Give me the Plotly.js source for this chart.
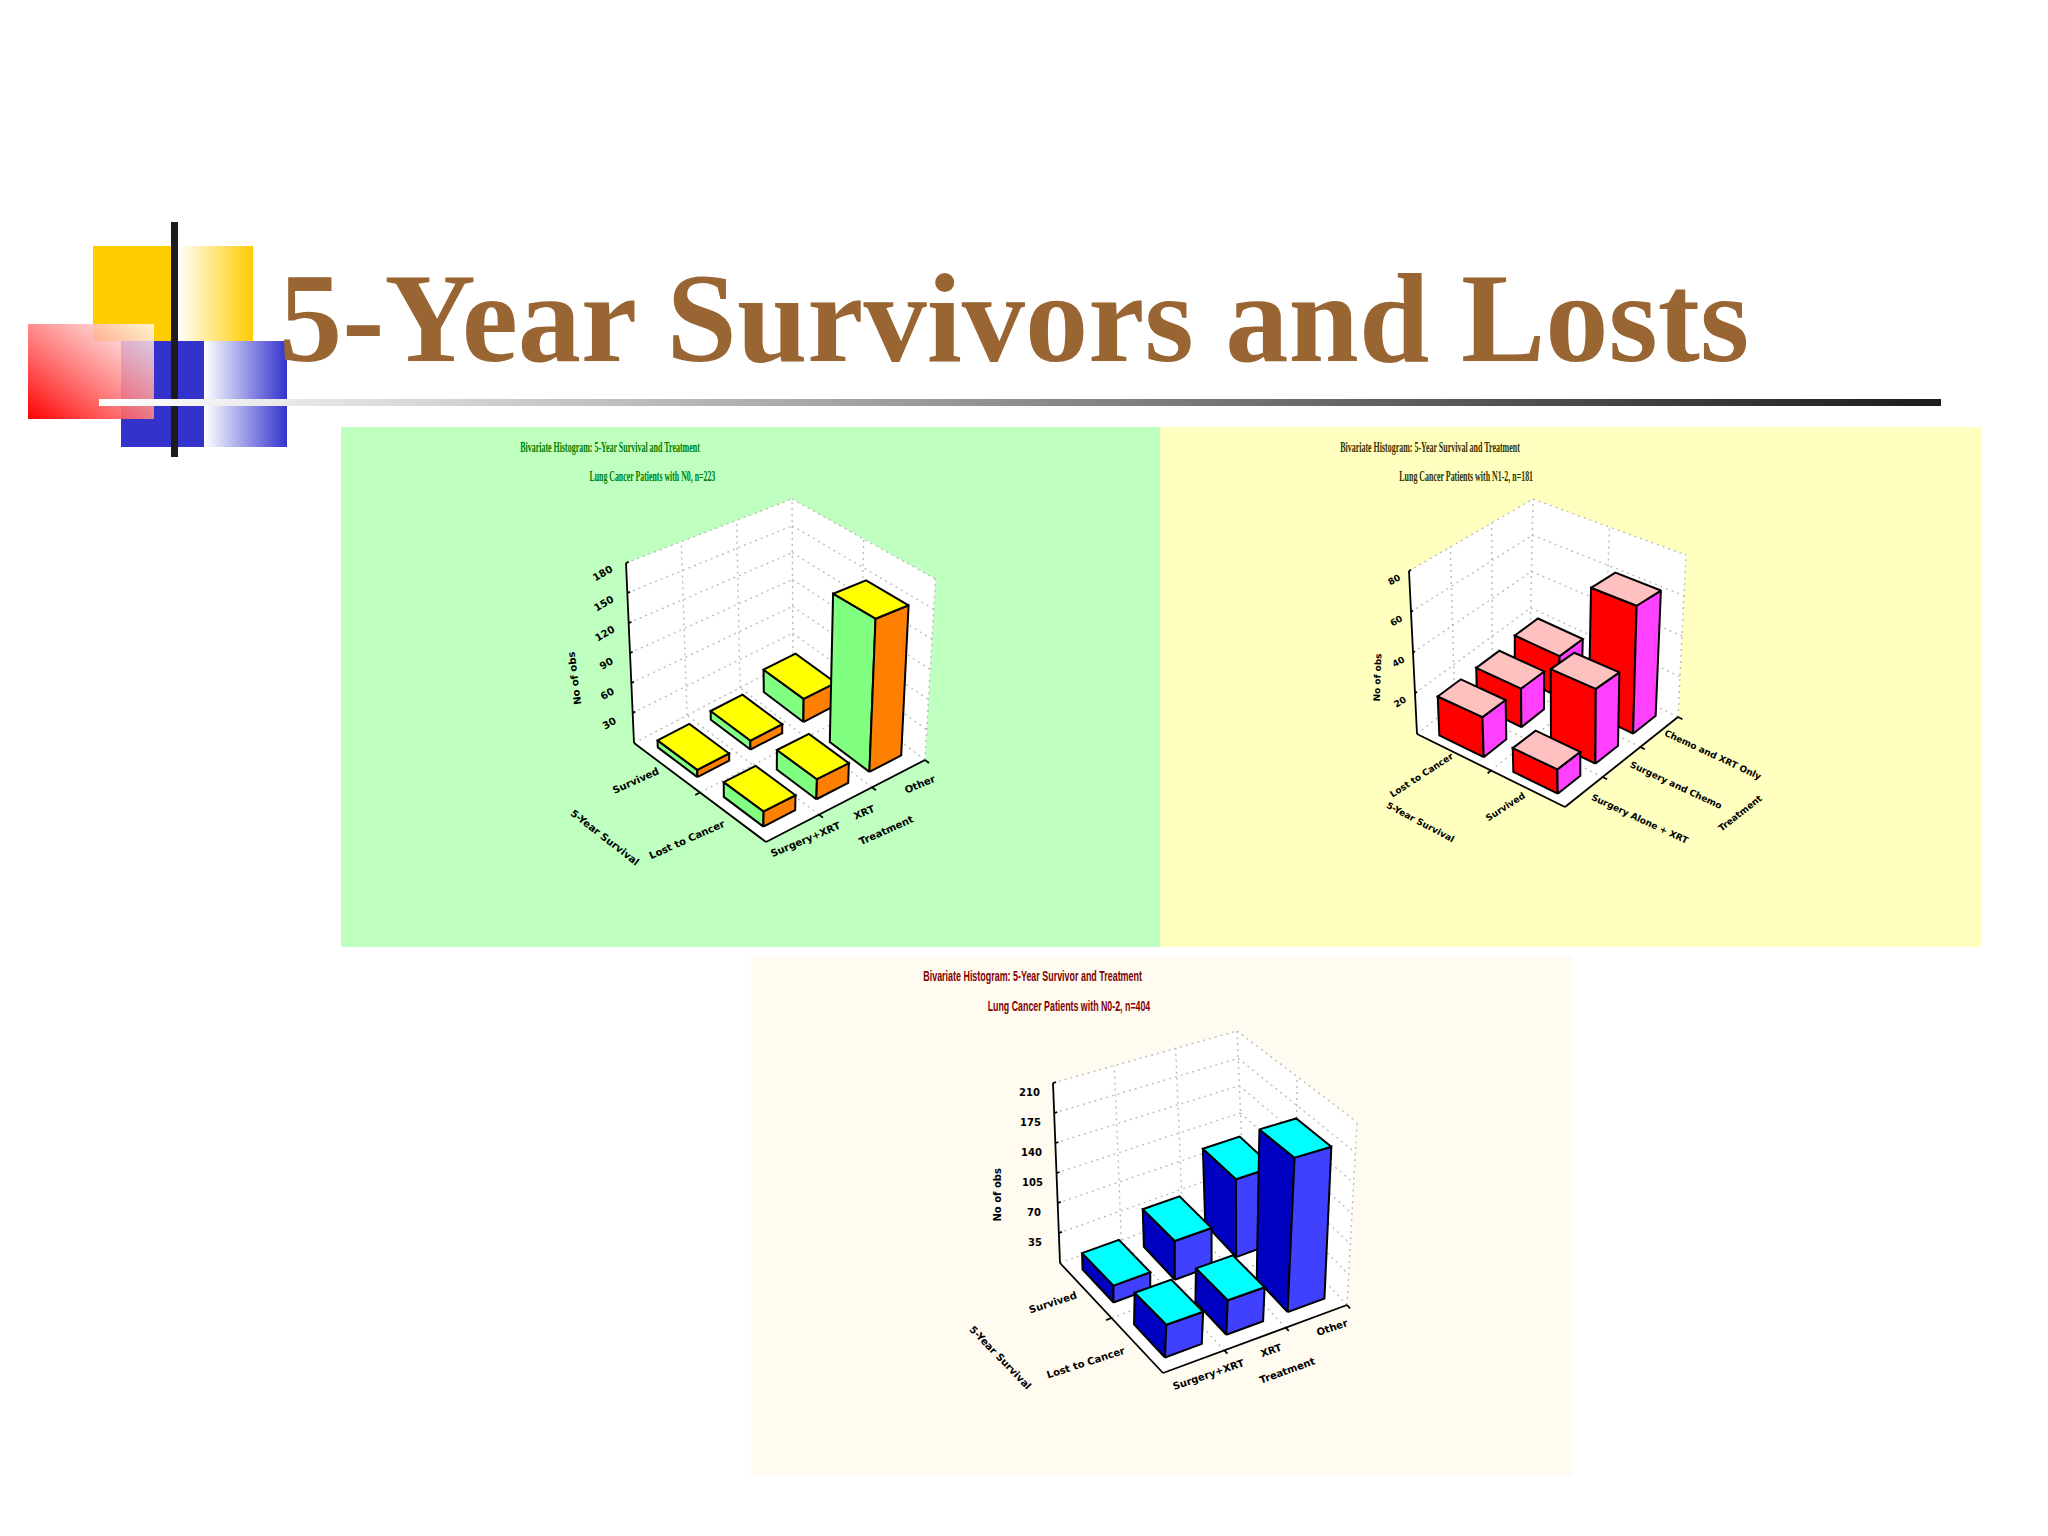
<!DOCTYPE html>
<html><head><meta charset="utf-8">
<script src="https://cdn.plot.ly/plotly-3.0.1.min.js"></script>
<style>html,body{margin:0;padding:0;background:#fff;overflow:hidden}#g{width:2048px;height:1536px}</style>
</head><body><div id="g"></div>
<script>
// ---- data ----
const slideTitle = "5-Year Survivors and Losts";
const treatmentsA = ["Surgery+XRT", "XRT", "Other"];
const treatmentsB = ["Surgery Alone + XRT", "Surgery and Chemo", "Chemo and XRT Only"];
const outcomesA = ["Survived", "Lost to Cancer"];
const outcomesB = ["Lost to Cancer", "Survived"];
const n0Rear = [7, 9, 24];
const n0Near = [14, 19, 150];
const n12Rear = [19, 19, 21];
const n12Near = [11, 35, 62];
const n02Rear = [19, 45, 93];
const n02Near = [35, 38, 175];
const n0Ticks = [30, 60, 90, 120, 150, 180];
const n12Ticks = [20, 40, 60, 80];
const n02Ticks = [35, 70, 105, 140, 175, 210];

// ---- page geometry and styling ----
const W = 2048, H = 1536, BAR = 0.6, NX = 3, NY = 2;
const charts = [
 {sub:'', panel:[341,427,1160,947], bg:'#BFFFBF',
  title1:"Bivariate Histogram: 5-Year Survival and Treatment", title2:"Lung Cancer Patients with N0, n=223",
  t1:[609.5,447,180], t2:[652,476,126], tColor:'#008000', tFont:'Liberation Serif', tSize:14,
  rear:n0Rear, near:n0Near, ticks:n0Ticks, cats:treatmentsA, outcomes:outcomesA, labelSize:10,
  floor:{l:[634,743],f:[766,842],r:[925,760],b:[793,660]},
  roof:{l:[626,563],f:[769,643],r:[935.5,579],b:[792,499]},
  top:'#ffff00', left:'#80ff80', right:'#ff8000',
  xOff:[[13,11],[18,11],[21,11]], xAng:-23, xTitleOff:[40,29], xTitleAng:-24,
  yOff:[[-31,13],[-46,22]], yAng:-24, yTitleOff:[-95,45], yTitleAng:38,
  zOff:[-24,10], zAng:-30, zTitleOff:[-56,26], zTitleAng:-97},
 {sub:'2', panel:[1160,427,1982,947], bg:'#FFFFBF',
  title1:"Bivariate Histogram: 5-Year Survival and Treatment", title2:"Lung Cancer Patients with N1-2, n=181",
  t1:[1429.5,447,180], t2:[1466,476,134], tColor:'#333300', tFont:'Liberation Serif', tSize:14,
  rear:n12Rear, near:n12Near, ticks:n12Ticks, cats:treatmentsB, outcomes:outcomesB, labelSize:9,
  floor:{l:[1417,734],f:[1565,807],r:[1678,717],b:[1530,644]},
  roof:{l:[1409,571],f:[1562,627],r:[1686,555],b:[1533,499]},
  top:'#ffc0c0', left:'#ff0000', right:'#ff40ff',
  xOff:[[56,27],[54,23],[54,23]], xAng:25, xTitleOff:[119,51], xTitleAng:-38,
  yOff:[[-32,23],[-23,18]], yAng:-33, yTitleOff:[-71,51], yTitleAng:28,
  zOff:[-15,9], zAng:-30, zTitleOff:[-36,25], zTitleAng:-88},
 {sub:'3', panel:[751,956,1572,1476], bg:'#FFFBF1',
  title1:"Bivariate Histogram: 5-Year Survivor and Treatment", title2:"Lung Cancer Patients with N0-2, n=404",
  t1:[1032.5,976,219], t2:[1068.5,1006,163], tColor:'#800000', tFont:'Liberation Sans', tSize:14,
  rear:n02Rear, near:n02Near, ticks:n02Ticks, cats:treatmentsA, outcomes:outcomesA, labelSize:10,
  floor:{l:[1060,1263],f:[1163,1373],r:[1347,1305],b:[1244,1195]},
  roof:{l:[1053,1083],f:[1173,1174],r:[1357,1122],b:[1237,1031]},
  top:'#00ffff', left:'#0000c0', right:'#4040ff',
  xOff:[[15,13],[16,11],[16,11]], xAng:-19, xTitleOff:[32,31], xTitleAng:-20,
  yOff:[[-33,12],[-51,17]], yAng:-18, yTitleOff:[-111,39], yTitleAng:46,
  zOff:[-24,9], zAng:0, zTitleOff:[-60,22], zTitleAng:-90}
];

const traces = [], narrow = [];
const layout = {width:W,height:H,margin:{l:0,r:0,t:0,b:0},paper_bgcolor:'#fff',plot_bgcolor:'rgba(0,0,0,0)',showlegend:false,
  hovermode:false,shapes:[],annotations:[],images:[]};

function svgUri(body){return 'data:image/svg+xml;base64,'+btoa('<svg xmlns="http://www.w3.org/2000/svg" viewBox="0 0 100 100" preserveAspectRatio="none">'+body+'</svg>');}
function grad(id,a,b,x1,y1,x2,y2,oa,ob){return `<defs><linearGradient id="${id}" x1="${x1}" y1="${y1}" x2="${x2}" y2="${y2}"><stop offset="0" stop-color="${a}" stop-opacity="${oa}"/><stop offset="1" stop-color="${b}" stop-opacity="${ob}"/></linearGradient></defs><rect width="100" height="100" fill="url(#${id})"/>`;}
function img(uri,x0,y0,x1,y1){layout.images.push({source:uri,xref:'paper',yref:'paper',x:x0/W,y:1-y0/H,sizex:(x1-x0)/W,sizey:(y1-y0)/H,sizing:'stretch',xanchor:'left',yanchor:'top',layer:'below'});}

// slide decoration
img(svgUri('<rect width="100" height="100" fill="#FFCC00"/>'),93,246,177,341);
img(svgUri(grad('a','#ffffff','#FFCC00',0,0,1,0,1,1)),177,246,253,341);
img(svgUri('<rect width="100" height="100" fill="#3333CC"/>'),121,341,204,447);
img(svgUri(grad('b','#ffffff','#3333CC',0,0,1,0,1,1)),204,341,287,447);
img(svgUri('<rect width="100" height="100" fill="#1c1c1c"/>'),171,222,178,457);
img(svgUri(grad('c','#ff0000','#ffffff',0,1,1,0,1,0.8)),28,324,154,419);
img(svgUri(grad('d','#ffffff','#1c1c1c',0,0,1,0,1,1)),99,399,1941,406);

layout.annotations.push({xref:'paper',yref:'paper',x:277/W,y:1-318/H,xanchor:'left',yanchor:'middle',showarrow:false,text:'<b>'+slideTitle+'</b>',
  font:{family:'Liberation Serif',size:126.5,color:'#996633'}});

charts.forEach((c,ci)=>{
  const [px0,py0,px1,py1]=c.panel, xa='x'+c.sub, ya='y'+c.sub;
  const zmax=c.ticks[c.ticks.length-1];
  layout['xaxis'+c.sub]={domain:[px0/W,px1/W],range:[px0,px1],visible:false,fixedrange:true,anchor:ya};
  layout['yaxis'+c.sub]={domain:[1-py1/H,1-py0/H],range:[py1,py0],visible:false,fixedrange:true,anchor:xa};
  layout.shapes.push({type:'rect',xref:'paper',yref:'paper',layer:'below',x0:px0/W,x1:px1/W,y0:1-py0/H,y1:1-py1/H,fillcolor:c.bg,line:{width:0}});

  // 3-D data position -> plot position, through the eight measured corners of the chart's box
  const lerp=(a,b,t)=>[a[0]+(b[0]-a[0])*t,a[1]+(b[1]-a[1])*t];
  const project=(x,y,z)=>{
    const u=x/NX,v=y/NY,w=z/zmax;
    const atLevel=k=>lerp(lerp(k.f,k.r,u),lerp(k.l,k.b,u),v);
    return lerp(atLevel(c.floor),atLevel(c.roof),w);
  };
  const base={type:'scatter',mode:'lines',xaxis:xa,yaxis:ya,hoverinfo:'skip',cliponaxis:false};
  const poly=(pts,fill,line)=>{
    const p=pts.map(a=>project(a[0],a[1],a[2]));
    p.push(p[0]);
    traces.push({...base,x:p.map(q=>q[0]),y:p.map(q=>q[1]),fill:'toself',fillcolor:fill,line:line});
  };
  const path=(segs,line)=>{
    const xs=[],ys=[];
    segs.forEach(s=>{const a=project(...s[0]),b=project(...s[1]);xs.push(a[0],b[0],null);ys.push(a[1],b[1],null);});
    traces.push({...base,x:xs,y:ys,line:line});
  };
  const none={width:0,color:'rgba(0,0,0,0)'};
  // walls and floor
  poly([[0,0,0],[NX,0,0],[NX,NY,0],[0,NY,0]],'#fff',none);
  poly([[0,NY,0],[NX,NY,0],[NX,NY,zmax],[0,NY,zmax]],'#fff',none);
  poly([[NX,0,0],[NX,NY,0],[NX,NY,zmax],[NX,0,zmax]],'#fff',none);
  // dotted grid
  const grid=[];
  c.ticks.forEach(t=>{grid.push([[0,NY,t],[NX,NY,t]],[[NX,NY,t],[NX,0,t]]);});
  [1,2].forEach(v=>{grid.push([[v,NY,0],[v,NY,zmax]],[[v,0,0],[v,NY,0]]);});
  grid.push([[NX,1,0],[NX,1,zmax]],[[0,1,0],[NX,1,0]],[[NX,NY,0],[NX,NY,zmax]],[[NX,0,0],[NX,0,zmax]],[[NX,0,0],[NX,NY,0]],[[0,NY,0],[NX,NY,0]]);
  path(grid,{color:'#bdbdbd',width:1.4,dash:'2px,4px'});
  // axis lines and tick marks
  const ax=[[[0,NY,0],[0,NY,zmax]],[[0,NY,0],[0,0,0]],[[0,0,0],[NX,0,0]]];
  c.ticks.forEach(t=>ax.push([[0,NY,t],[0.05,NY,t]]));
  [1,2].forEach(v=>ax.push([[v,0,0],[v,-0.06,0]]));
  ax.push([[0,1,0],[-0.09,1,0]],[[NX,0,0],[NX,-0.06,0]]);
  path(ax,{color:'#000',width:1.8});

  // bars: far ones first so that nearer ones cover them
  const edge={color:'#000',width:2};
  [[c.rear,1],[c.near,0]].forEach(([row,iy])=>{
    [2,1,0].forEach(ix=>{
      const v=row[ix], x0=ix+.5-BAR/2,x1=ix+.5+BAR/2,y0=iy+.5-BAR/2,y1=iy+.5+BAR/2;
      poly([[x0,y0,0],[x0,y1,0],[x0,y1,v],[x0,y0,v]],c.left,edge);
      poly([[x0,y0,0],[x1,y0,0],[x1,y0,v],[x0,y0,v]],c.right,edge);
      poly([[x0,y0,v],[x1,y0,v],[x1,y1,v],[x0,y1,v]],c.top,edge);
    });
  });

  // labels
  const f={family:'DejaVu Sans',size:c.labelSize,color:'#000'};
  const note=(pos,off,text,ang)=>{const p=project(...pos);layout.annotations.push({xref:xa,yref:ya,x:p[0]+off[0],y:p[1]+off[1],text:'<b>'+text+'</b>',textangle:ang,showarrow:false,font:f});};
  c.cats.forEach((t,i)=>note([i+.5,0,0],c.xOff[i],t,c.xAng));
  note([1.5,0,0],c.xTitleOff,'Treatment',c.xTitleAng);
  c.outcomes.forEach((t,i)=>note([0,1.5-i,0],c.yOff[i],t,c.yAng));
  note([0,1,0],c.yTitleOff,'5-Year Survival',c.yTitleAng);
  c.ticks.forEach(t=>note([0,NY,t],c.zOff,String(t),c.zAng));
  note([0,NY,zmax/2],c.zTitleOff,'No of obs',c.zTitleAng);

  [[c.title1,c.t1],[c.title2,c.t2]].forEach(([text,t])=>{
    layout.annotations.push({xref:xa,yref:ya,x:t[0],y:t[1],showarrow:false,text:'<b>'+text+'</b>',font:{family:c.tFont,size:c.tSize,color:c.tColor}});
    narrow.push({width:t[2],index:layout.annotations.length-1});
  });
});

Plotly.newPlot('g',traces,layout,{displayModeBar:false,staticPlot:true}).then(()=>{
  // the source titles are horizontally squeezed: keep them as text, narrowed to their measured width
  narrow.forEach(n=>{
    const el=document.querySelector(`#g .annotation[data-index="${n.index}"] .annotation-text`);
    if(!el) return;
    const b=el.getBBox(), cx=b.x+b.width/2;
    el.setAttribute('transform',`translate(${cx},0) scale(${n.width/b.width},1) translate(${-cx},0)`);
  });
});
</script></body></html>
